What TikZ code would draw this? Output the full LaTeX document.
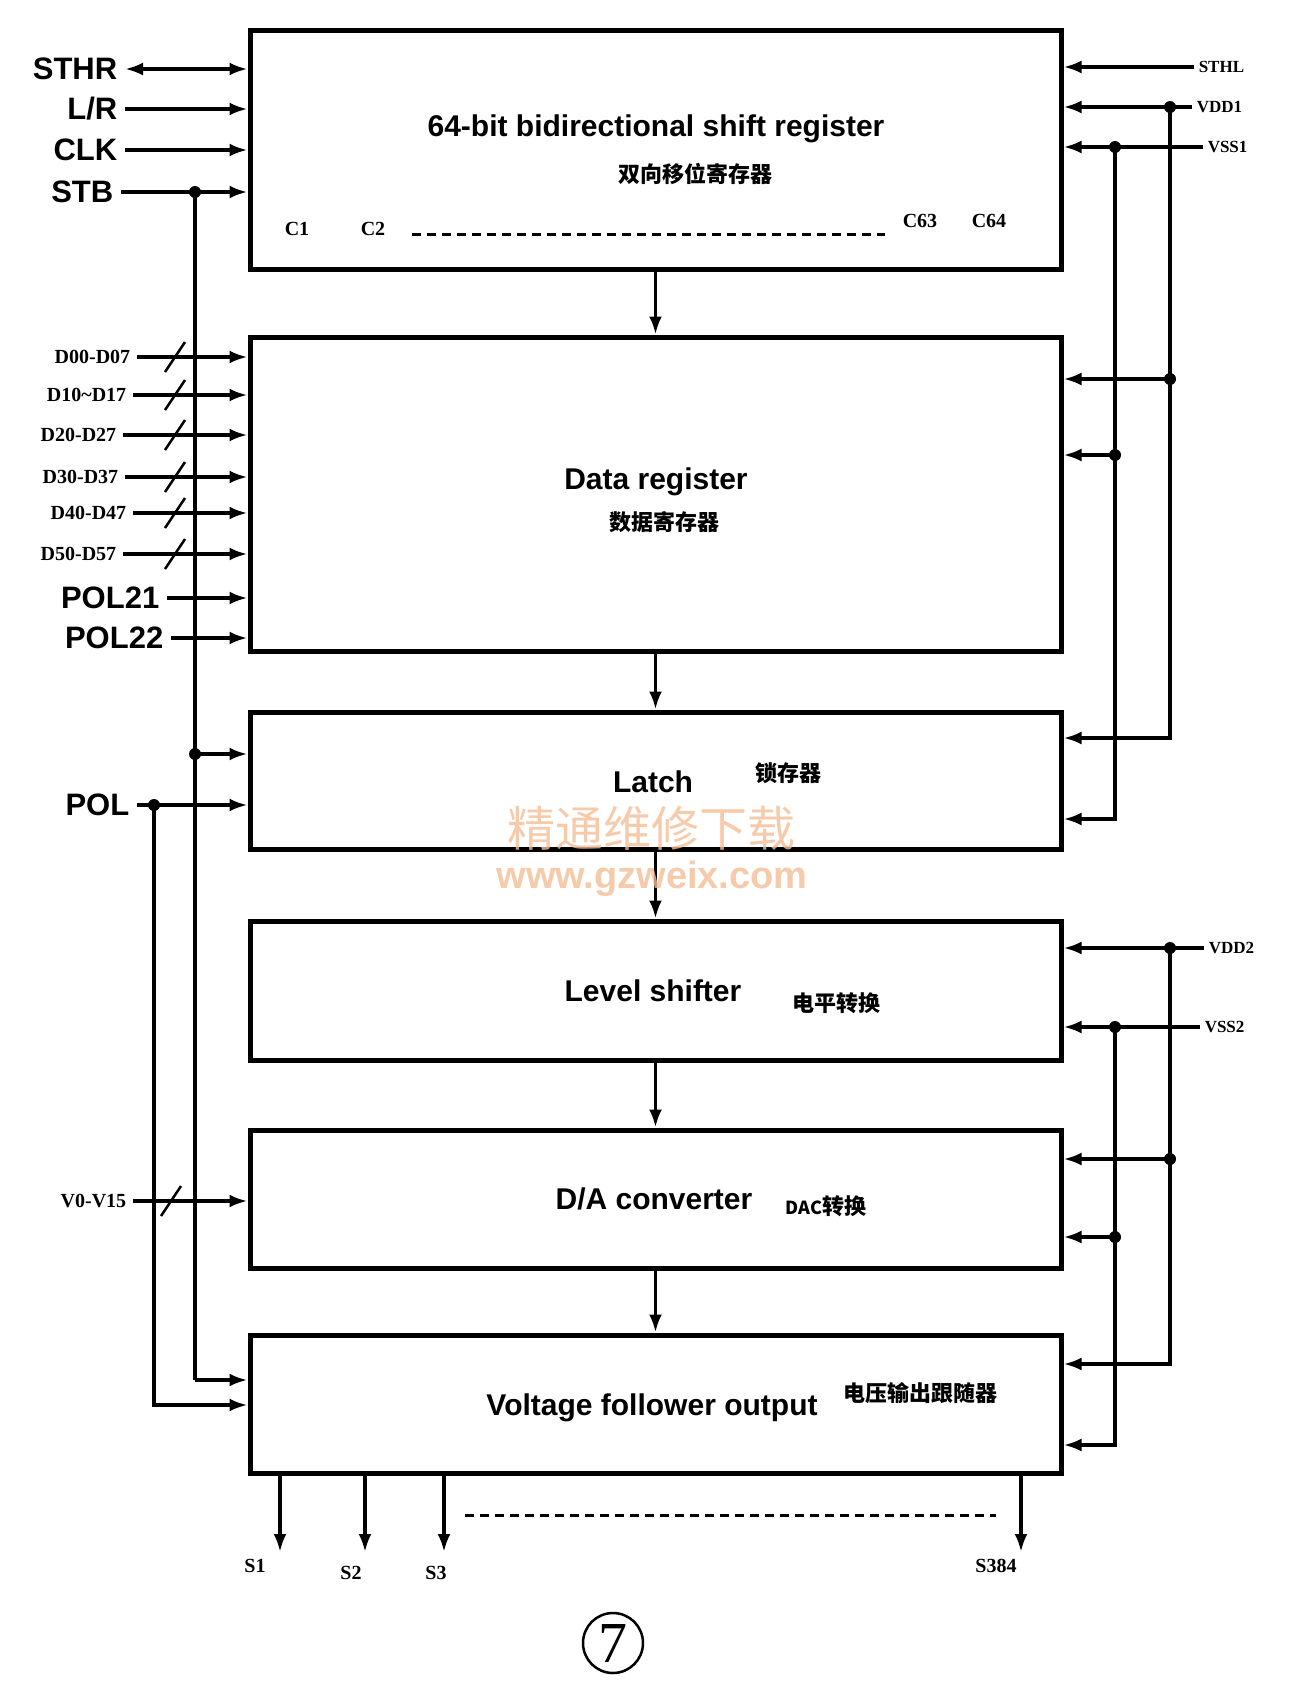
\documentclass[tikz,border=0pt]{standalone}
\usepackage{fontspec}
\setmainfont{Liberation Sans}
\newfontfamily\serifface{Liberation Serif}
\newfontfamily\cjkface{Noto Sans CJK SC}
\usetikzlibrary{arrows.meta}
\definecolor{wmorange}{RGB}{244,190,150}
\begin{document}
\begin{tikzpicture}[x=1pt,y=-1pt,line width=3.5pt,
  blockbox/.style={draw,rectangle,line width=5pt,minimum width=811pt,inner sep=0pt},
  boxtitle/.style={font=\fontsize{30}{34}\selectfont\bfseries},
  zhtext/.style={font=\fontsize{22}{26}\selectfont\cjkface\bfseries},
  biglabel/.style={font=\fontsize{31}{36}\selectfont\bfseries,inner sep=0pt,inner xsep=6pt},
  reglabel/.style={font=\fontsize{20}{24}\selectfont\serifface\bfseries,inner sep=0pt,inner xsep=5pt},
  rlabel/.style={font=\fontsize{17}{20}\selectfont\serifface\bfseries,inner sep=0pt,inner xsep=3pt,anchor=west},
  sig/.style={-{Latex[length=18pt,width=13pt]}},
  sigboth/.style={{Latex[length=18pt,width=13pt]}-{Latex[length=18pt,width=13pt]}},
  busdot/.style={circle,fill,inner sep=0pt,minimum size=12pt},
  buswidth/.style={line width=2.5pt}]
\useasboundingbox (0,0) rectangle (1308,1698);

\node[blockbox,minimum height=239pt] (shift) at (655.5,149.5) {};
\node[blockbox,minimum height=314pt] (data) at (655.5,494) {};
\node[blockbox,minimum height=137pt] (latch) at (655.5,780.5) {};
\node[blockbox,minimum height=139pt] (level) at (655.5,990.5) {};
\node[blockbox,minimum height=138pt] (dac) at (655.5,1199) {};
\node[blockbox,minimum height=138pt] (vfo) at (655.5,1404) {};

\node[boxtitle] (shiftname) at (656,129) {64-bit bidirectional shift register};
\node[zhtext] (shiftzh) at (695,174) {双向移位寄存器};
\node[boxtitle] (dataname) at (656,482) {Data register};
\node[zhtext] (datazh) at (664,522) {数据寄存器};
\node[boxtitle] (latchname) at (653,782) {Latch};
\node[zhtext] (latchzh) at (788,773) {锁存器};
\node[boxtitle] (levelname) at (653,991) {Level shifter};
\node[zhtext] (levelzh) at (836,1003) {电平转换};
\node[boxtitle] (dacname) at (654,1199) {D/A converter};
\node[zhtext] (daczh) at (826,1206) {{\fontsize{18}{20}\selectfont DAC}转换};
\node[boxtitle] (vfoname) at (652,1408) {Voltage follower output};
\node[zhtext] (vfozh) at (920,1393) {电压输出跟随器};

\node[reglabel] (c1) at (297,229) {C1};
\node[reglabel] (c2) at (373,229) {C2};
\node[reglabel] (c63) at (920,221) {C63};
\node[reglabel] (c64) at (989,221) {C64};
\draw[line width=3pt,dash pattern=on 9pt off 6pt] (412,234) -- (885,234);

\foreach \a/\b in {shift/data,data/latch,latch/level,level/dac,dac/vfo}
  \draw[sig] (\a.south) -- (\b.north);

\node[biglabel,anchor=east] (sthr) at (125,69) {STHR};
\node[biglabel,anchor=east] (lr) at (125,109) {L/R};
\node[biglabel,anchor=east] (clk) at (125,150) {CLK};
\node[biglabel,anchor=east] (stb) at (121,192) {STB};
\draw[sigboth] (sthr.east) -- (sthr.east -| shift.west);
\foreach \n in {lr,clk,stb}
  \draw[sig] (\n.east) -- (\n.east -| shift.west);

\foreach \n/\txt/\y/\x in {d0/D00-D07/357/137,d1/D10\textasciitilde D17/395/133,d2/D20-D27/435/123,d3/D30-D37/477/125,d4/D40-D47/513/133,d5/D50-D57/554/123}{
  \node[reglabel,anchor=east] (\n) at (\x,\y) {\txt};
  \draw[sig] (\n.east) -- (\n.east -| data.west);
  \draw[buswidth] (165,\y+15) -- (185,\y-15);
}
\node[biglabel,anchor=east] (pol21) at (167,598) {POL21};
\node[biglabel,anchor=east] (pol22) at (171,638) {POL22};
\draw[sig] (pol21.east) -- (pol21.east -| data.west);
\draw[sig] (pol22.east) -- (pol22.east -| data.west);

\node[busdot] (stbtop) at (195,192) {};
\node[busdot] (stbmid) at (195,754) {};
\coordinate (stbend) at (195,1380);
\draw (stbtop.center) -- (stbend);
\draw[sig] (stbmid.center) -- (stbmid -| latch.west);
\draw[sig] (stbend) -- (stbend -| vfo.west);

\node[biglabel,anchor=east] (pol) at (137,805) {POL};
\node[busdot] (poldot) at (154,805) {};
\coordinate (polend) at (154,1405);
\draw[sig] (pol.east) -- (pol.east -| latch.west);
\draw[sig] (poldot.center) -- (polend) -- (polend -| vfo.west);

\node[reglabel,anchor=east] (vref) at (133,1201) {V0-V15};
\draw[sig] (vref.east) -- (vref.east -| dac.west);
\draw[buswidth] (161,1216) -- (181,1186);

\node[rlabel] (sthl) at (1194,67) {STHL};
\node[rlabel] (vdd1) at (1192,107) {VDD1};
\node[rlabel] (vss1) at (1203,147) {VSS1};
\draw[sig] (sthl.west) -- (sthl.west -| shift.east);
\draw[sig] (vdd1.west) -- (vdd1.west -| shift.east);
\draw[sig] (vss1.west) -- (vss1.west -| shift.east);
\node[busdot] (vdd1top) at (1170,107) {};
\node[busdot] (vss1top) at (1115,147) {};
\node[busdot] (vdd1mid) at (1170,379) {};
\node[busdot] (vss1mid) at (1115,455) {};
\coordinate (vdd1end) at (1170,738);
\coordinate (vss1end) at (1115,819);
\draw[sig] (vdd1top.center) -- (vdd1end) -- (vdd1end -| latch.east);
\draw[sig] (vss1top.center) -- (vss1end) -- (vss1end -| latch.east);
\draw[sig] (vdd1mid.center) -- (vdd1mid -| data.east);
\draw[sig] (vss1mid.center) -- (vss1mid -| data.east);

\node[rlabel] (vdd2) at (1204,948) {VDD2};
\node[rlabel] (vss2) at (1200,1027) {VSS2};
\draw[sig] (vdd2.west) -- (vdd2.west -| level.east);
\draw[sig] (vss2.west) -- (vss2.west -| level.east);
\node[busdot] (vdd2top) at (1170,948) {};
\node[busdot] (vss2top) at (1115,1027) {};
\node[busdot] (vdd2mid) at (1170,1159) {};
\node[busdot] (vss2mid) at (1115,1237) {};
\coordinate (vdd2end) at (1170,1364);
\coordinate (vss2end) at (1115,1445);
\draw[sig] (vdd2top.center) -- (vdd2end) -- (vdd2end -| vfo.east);
\draw[sig] (vss2top.center) -- (vss2end) -- (vss2end -| vfo.east);
\draw[sig] (vdd2mid.center) -- (vdd2mid -| dac.east);
\draw[sig] (vss2mid.center) -- (vss2mid -| dac.east);

\foreach \n/\txt/\x/\lx/\ly in {s1/S1/280/255/1566,s2/S2/365/351/1573,s3/S3/444/436/1573,s384/S384/1021/996/1566}{
  \coordinate (\n e) at (\x,1552);
  \draw[sig] (\n e |- vfo.south) -- (\n e);
  \node[reglabel] (\n) at (\lx,\ly) {\txt};
}
\draw[line width=3pt,dash pattern=on 9pt off 6pt] (465,1515) -- (996,1515);

\node[draw,circle,line width=2.5pt,minimum size=60pt,inner sep=0pt,font=\fontsize{58}{58}\selectfont\serifface] (fignum) at (613,1643) {7};

\node[text=wmorange,opacity=0.8,inner sep=0pt,font=\fontsize{48}{50}\selectfont\cjkface] (wmzh) at (651,828) {精通维修下载};
\node[text=wmorange,opacity=0.8,inner sep=0pt,font=\fontsize{38}{40}\selectfont\bfseries] (wmurl) at (652,879) {www.gzweix.com};
\end{tikzpicture}
\end{document}
